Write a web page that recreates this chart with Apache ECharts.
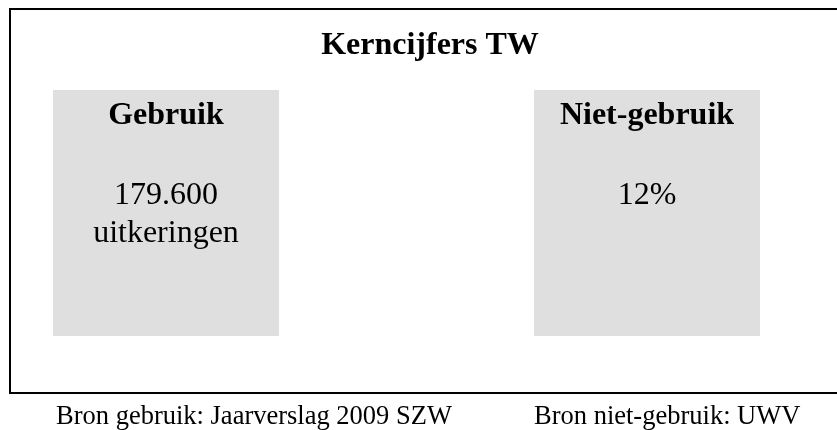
<!DOCTYPE html>
<html>
<head>
<meta charset="utf-8">
<script src="https://cdn.jsdelivr.net/npm/echarts@6/dist/echarts.min.js"></script>
<style>
  html, body { margin: 0; padding: 0; background: #fff; }
  #chart { width: 837px; height: 430px; }
</style>
</head>
<body>
<div id="chart"></div>
<script>
// kerncijfers: twee vakken met kop en cijfer
const titleText = 'Kerncijfers TW'
const categories = ['Gebruik', 'Niet-gebruik']
const figures = [['179.600', 'uitkeringen'], ['12%']]
const boxValues = [1, 1]
const sources = ['Bron gebruik: Jaarverslag 2009 SZW', 'Bron niet-gebruik: UWV']

const serif = 'Liberation Serif, Times New Roman, serif'

const chart = echarts.init(document.getElementById('chart'))

const option = {
  backgroundColor: '#fff',
  animation: false,
  title: [
    {
      text: titleText,
      left: 430,
      textAlign: 'center',
      top: 30,
      padding: 0,
      textStyle: { fontFamily: serif, fontSize: 32, fontWeight: 'bold', color: '#000' }
    },
    {
      text: sources[0],
      left: 56,
      top: 404,
      padding: 0,
      textStyle: { fontFamily: serif, fontSize: 26.5, fontWeight: 'normal', color: '#000' }
    },
    {
      text: sources[1],
      left: 534,
      top: 404,
      padding: 0,
      textStyle: { fontFamily: serif, fontSize: 26.5, fontWeight: 'normal', color: '#000' }
    }
  ],
  grid: { left: 45.75, width: 721.5, top: 90, height: 246 },
  xAxis: { type: 'value', min: -0.25, max: 1.25, show: false },
  yAxis: { type: 'value', min: 0, max: 1, show: false },
  graphic: [
    {
      type: 'rect',
      shape: { x: 10, y: 9, width: 900, height: 384 },
      style: { fill: 'none', stroke: '#000', lineWidth: 2 },
      z: 10
    }
  ],
  series: [
    {
      type: 'bar',
      barWidth: 226,
      data: boxValues.map((v, i) => [i, v]),
      itemStyle: { color: '#dfdfdf' },
      label: {
        show: true,
        position: 'insideTop',
        distance: 3,
        formatter: p => {
          const i = p.dataIndex
          const lines = ['{h|' + categories[i] + '}', '{g| }']
          figures[i].forEach(f => lines.push('{v|' + f + '}'))
          return lines.join('\n')
        },
        rich: {
          h: { fontFamily: serif, fontSize: 32, fontWeight: 'bold', color: '#000', lineHeight: 46 },
          g: { fontFamily: serif, fontSize: 32, lineHeight: 38 },
          v: { fontFamily: serif, fontSize: 32, color: '#000', lineHeight: 38 }
        }
      }
    }
  ]
}

chart.setOption(option)
</script>
</body>
</html>
